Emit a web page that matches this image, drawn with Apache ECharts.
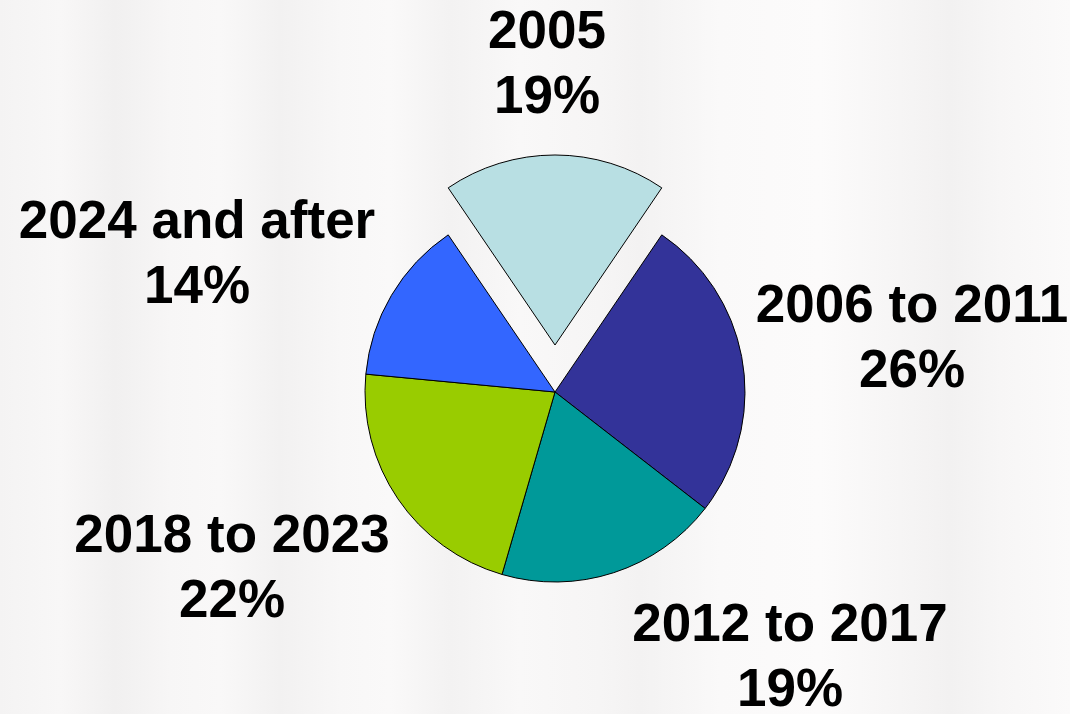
<!DOCTYPE html>
<html>
<head>
<meta charset="utf-8">
<script src="https://cdn.jsdelivr.net/npm/echarts@6/dist/echarts.min.js"></script>
<style>
  html, body { margin: 0; padding: 0; background: #f9f8f8; }
  /* soft, faded backdrop with pale vertical bands */
  #chart {
    width: 1070px; height: 714px;
    background: linear-gradient(90deg,
      #f4f3f3 0px, #f8f7f7 60px, #f1f0f0 115px, #f7f6f6 170px,
      #f9f8f8 220px, #f2f1f1 280px, #f8f7f7 340px, #faf9f9 390px,
      #f3f2f2 450px, #f9f8f8 520px, #f6f5f5 600px, #f3f2f2 640px,
      #faf9f9 720px, #fcfbfb 820px, #f6f5f5 900px, #f2f1f1 950px,
      #f7f6f6 1000px, #fbfafa 1070px);
  }
</style>
</head>
<body>
<div id="chart"></div>
<script>
// Share of maturities by period
const periods = ['2005', '2006 to 2011', '2012 to 2017', '2018 to 2023', '2024 and after'];
const shares = [19, 26, 19, 22, 14];
const sliceColors = ['#b8dfe3', '#333399', '#009999', '#99cc00', '#3366ff'];

// Label centres for each slice (x, y)
const labelSpots = [[547, 66], [912, 340], [790, 659], [232, 570], [197, 256]];

const labelFont = {
  fontFamily: '"Liberation Sans", Arial, sans-serif',
  fontWeight: 'bold',
  fontSize: 53,
  lineHeight: 65
};
const labelText = i => periods[i] + '\n' + shares[i] + '%';

const chart = echarts.init(document.getElementById('chart'));

chart.setOption({
  backgroundColor: 'transparent',
  animation: false,
  // the pulled-out slice carries its label along, so that one is placed separately
  graphic: [{
    type: 'text',
    x: labelSpots[0][0],
    y: labelSpots[0][1],
    style: Object.assign({
      text: labelText(0),
      fill: '#000',
      align: 'center',
      verticalAlign: 'middle'
    }, labelFont),
    z: 10
  }],
  series: [{
    type: 'pie',
    center: [555, 392],
    radius: 190,
    startAngle: 90 + shares[0] * 3.6 / 2,
    clockwise: true,
    selectedMode: 'single',
    selectedOffset: 47,
    avoidLabelOverlap: false,
    itemStyle: { borderColor: '#000', borderWidth: 1 },
    emphasis: { disabled: true },
    label: Object.assign({
      show: true,
      position: 'outside',
      formatter: p => labelText(p.dataIndex),
      color: '#000',
      align: 'center'
    }, labelFont),
    labelLine: { show: false },
    labelLayout: p => ({
      x: labelSpots[p.dataIndex][0],
      y: labelSpots[p.dataIndex][1],
      align: 'center',
      verticalAlign: 'middle'
    }),
    data: periods.map((name, i) => ({
      name: name,
      value: shares[i],
      selected: i === 0,
      label: { show: i !== 0 },
      itemStyle: { color: sliceColors[i] }
    }))
  }]
});
</script>
</body>
</html>
